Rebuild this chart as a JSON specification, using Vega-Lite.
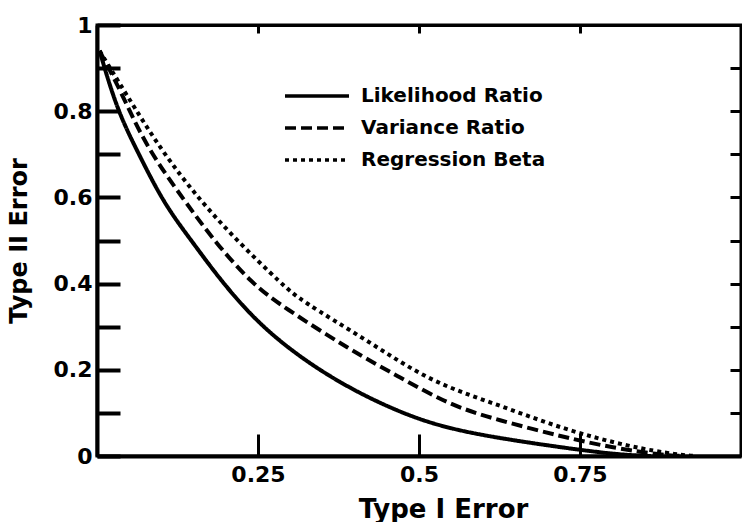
{
  "$schema": "https://vega.github.io/schema/vega-lite/v6.json",
  "width": 644,
  "height": 431,
  "autosize": {"type": "none"},
  "padding": {"left": 97, "top": 25, "right": 1, "bottom": 66},
  "background": "white",
  "config": {
    "view": {"stroke": "black", "strokeWidth": 3},
    "font": "DejaVu Sans",
    "axis": {
      "domainColor": "black", "tickColor": "black", "labelColor": "black", "titleColor": "black",
      "labelFont": "DejaVu Sans", "labelFontWeight": "bold", "labelFontSize": 22,
      "titleFont": "DejaVu Sans", "titleFontWeight": "bold", "titleFontSize": 24,
      "grid": false
    }
  },
  "data": {"values": [
    {"series": "Likelihood Ratio", "x": 0.004, "y": 0.94},
    {"series": "Likelihood Ratio", "x": 0.031, "y": 0.803},
    {"series": "Likelihood Ratio", "x": 0.064, "y": 0.703},
    {"series": "Likelihood Ratio", "x": 0.104, "y": 0.585},
    {"series": "Likelihood Ratio", "x": 0.148, "y": 0.497},
    {"series": "Likelihood Ratio", "x": 0.196, "y": 0.399},
    {"series": "Likelihood Ratio", "x": 0.264, "y": 0.285},
    {"series": "Likelihood Ratio", "x": 0.366, "y": 0.176},
    {"series": "Likelihood Ratio", "x": 0.470, "y": 0.100},
    {"series": "Likelihood Ratio", "x": 0.548, "y": 0.062},
    {"series": "Likelihood Ratio", "x": 0.646, "y": 0.036},
    {"series": "Likelihood Ratio", "x": 0.750, "y": 0.014},
    {"series": "Likelihood Ratio", "x": 0.812, "y": 0.003},
    {"series": "Likelihood Ratio", "x": 0.86, "y": 0.0},
    {"series": "Variance Ratio", "x": 0.004, "y": 0.94},
    {"series": "Variance Ratio", "x": 0.036, "y": 0.850},
    {"series": "Variance Ratio", "x": 0.075, "y": 0.72},
    {"series": "Variance Ratio", "x": 0.137, "y": 0.59},
    {"series": "Variance Ratio", "x": 0.183, "y": 0.497},
    {"series": "Variance Ratio", "x": 0.241, "y": 0.399},
    {"series": "Variance Ratio", "x": 0.289, "y": 0.346},
    {"series": "Variance Ratio", "x": 0.393, "y": 0.246},
    {"series": "Variance Ratio", "x": 0.470, "y": 0.183},
    {"series": "Variance Ratio", "x": 0.548, "y": 0.118},
    {"series": "Variance Ratio", "x": 0.621, "y": 0.084},
    {"series": "Variance Ratio", "x": 0.724, "y": 0.044},
    {"series": "Variance Ratio", "x": 0.801, "y": 0.019},
    {"series": "Variance Ratio", "x": 0.879, "y": 0.002},
    {"series": "Variance Ratio", "x": 0.91, "y": 0.0},
    {"series": "Regression Beta", "x": 0.004, "y": 0.94},
    {"series": "Regression Beta", "x": 0.043, "y": 0.845},
    {"series": "Regression Beta", "x": 0.101, "y": 0.706},
    {"series": "Regression Beta", "x": 0.160, "y": 0.593},
    {"series": "Regression Beta", "x": 0.219, "y": 0.497},
    {"series": "Regression Beta", "x": 0.287, "y": 0.399},
    {"series": "Regression Beta", "x": 0.315, "y": 0.362},
    {"series": "Regression Beta", "x": 0.419, "y": 0.269},
    {"series": "Regression Beta", "x": 0.517, "y": 0.172},
    {"series": "Regression Beta", "x": 0.621, "y": 0.120},
    {"series": "Regression Beta", "x": 0.724, "y": 0.062},
    {"series": "Regression Beta", "x": 0.828, "y": 0.021},
    {"series": "Regression Beta", "x": 0.905, "y": 0.002},
    {"series": "Regression Beta", "x": 0.93, "y": 0.0}
  ]},
  "layer": [
    {
      "mark": {"type": "line", "color": "black", "strokeWidth": 4, "interpolate": "basis", "clip": true},
      "encoding": {
        "x": {"field": "x", "type": "quantitative", "scale": {"domain": [0, 1], "nice": false},
          "axis": {"values": [0.25, 0.5, 0.75], "format": ".2~f", "tickSize": -22, "tickWidth": 3, "domainWidth": 4,
            "labelPadding": 30, "title": "Type I Error", "titleFontSize": 26, "titlePadding": 11, "titleX": 346}},
        "y": {"field": "y", "type": "quantitative", "scale": {"domain": [0, 1], "nice": false},
          "axis": {"values": [0, 0.1, 0.2, 0.3, 0.4, 0.5, 0.6, 0.7, 0.8, 0.9, 1], "format": ".2~f",
            "labelExpr": "round(datum.value*10)%2==0 ? datum.label : ''",
            "tickSize": -23, "tickWidth": 4, "domainWidth": 4, "labelPadding": 28,
            "title": "Type II Error", "titlePadding": 22}},
        "detail": {"field": "series"},
        "strokeDash": {"field": "series", "type": "nominal",
          "scale": {"domain": ["Likelihood Ratio", "Variance Ratio", "Regression Beta"], "range": [[1, 0], [11, 5], [4, 4]]},
          "legend": {"title": null, "orient": "none", "legendX": 186, "legendY": 53,
            "symbolType": "M-1,0L3,0", "symbolSize": 1024, "symbolStrokeWidth": 3.5, "symbolStrokeColor": "black",
            "symbolFillColor": "transparent",
            "labelFont": "DejaVu Sans", "labelFontWeight": "bold", "labelFontSize": 20, "labelColor": "black",
            "labelLimit": 0, "rowPadding": 4, "labelOffset": 42}}
      }
    },
    {
      "mark": {"type": "line", "opacity": 0},
      "encoding": {
        "x": {"field": "x", "type": "quantitative",
          "axis": {"orient": "top", "values": [0.25, 0.5, 0.75], "labels": false, "tickSize": -8, "tickWidth": 3, "domainWidth": 3, "title": null}},
        "y": {"field": "y", "type": "quantitative",
          "axis": {"orient": "right", "values": [0.1, 0.2, 0.3, 0.4, 0.5, 0.6, 0.7, 0.8, 0.9], "labels": false, "tickSize": -11, "tickWidth": 3, "domainWidth": 3, "title": null}},
        "detail": {"field": "series"}
      }
    }
  ],
  "resolve": {"axis": {"x": "independent", "y": "independent"}}
}
